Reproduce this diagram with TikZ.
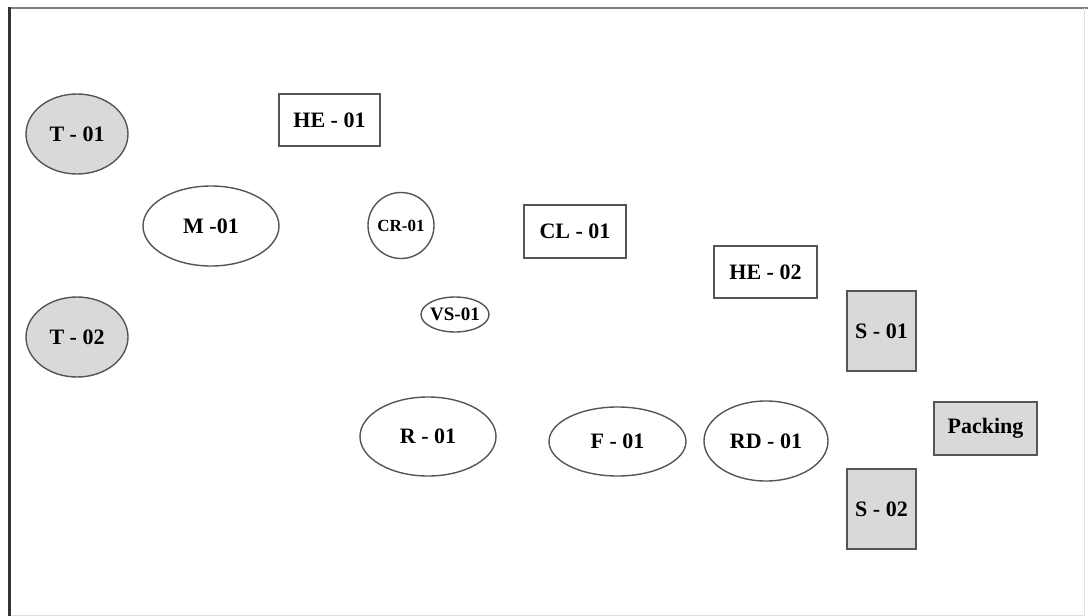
\documentclass[tikz,border=0pt]{standalone}
\usepackage{fontspec}
\setmainfont{Liberation Serif}
\usetikzlibrary{shapes.geometric}
\definecolor{edgegray}{HTML}{555555}
\definecolor{fillgray}{HTML}{D9D9D9}
\begin{document}
\begin{tikzpicture}[x=1pt,y=-1pt,
  base/.style={draw=edgegray, line width=1.4pt, inner sep=0pt, font=\fontsize{22}{24}\selectfont\bfseries, text=black},
  ell/.style={base, ellipse},
  box/.style={base, rectangle},
  tank/.style={ell, fill=fillgray, minimum width=102pt, minimum height=80pt},
  store/.style={box, fill=fillgray}
]
\useasboundingbox (0,0) rectangle (1088,616);
% frame
\draw[line width=2pt, gray] (9,8) -- (1088,8);
\draw[line width=1pt, black!12] (1084,8) -- (1084,615) -- (9,615);
\draw[line width=3pt, black!80] (9,7) -- (9,616);

\node[tank] (t1) at (77,134) {T - 01};
\node[tank] (t2) at (77,337) {T - 02};
\node[box, minimum width=101pt, minimum height=52pt] (he1) at (329.5,120) {HE - 01};
\node[ell, minimum width=136pt, minimum height=80pt] (m1) at (211,226) {M -01};
\node[base, circle, minimum size=66pt, font=\fontsize{17}{19}\selectfont\bfseries] (cr1) at (401,225.5) {CR-01};
\node[box, minimum width=102pt, minimum height=53pt] (cl1) at (575,231.5) {CL - 01};
\node[ell, minimum width=68pt, minimum height=35pt, inner xsep=-4pt, font=\fontsize{19}{21}\selectfont\bfseries] (vs1) at (455,314.5) {VS-01};
\node[box, minimum width=103pt, minimum height=52pt] (he2) at (765.5,272) {HE - 02};
\node[store, minimum width=69pt, minimum height=80pt] (s1) at (881.5,331) {S - 01};
\node[ell, minimum width=136pt, minimum height=79pt] (r1) at (428,436.5) {R - 01};
\node[ell, minimum width=137pt, minimum height=69pt] (f1) at (617.5,441.5) {F - 01};
\node[ell, minimum width=124pt, minimum height=80pt] (rd1) at (766,441) {RD - 01};
\node[store, minimum width=103pt, minimum height=53pt] (pk) at (985.5,428.5) {Packing};
\node[store, minimum width=69pt, minimum height=80pt] (s2) at (881.5,509) {S - 02};
\end{tikzpicture}
\end{document}
